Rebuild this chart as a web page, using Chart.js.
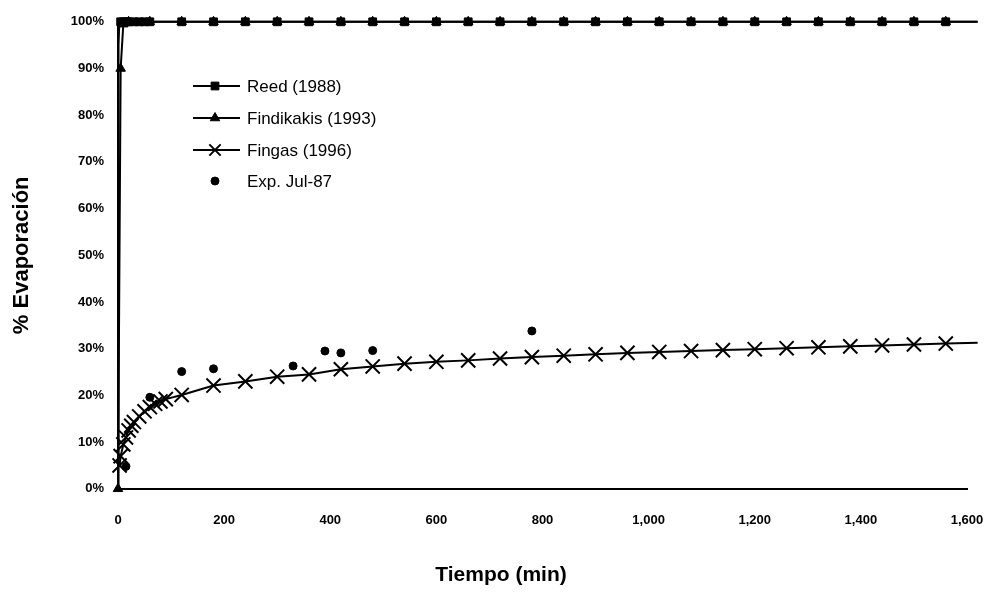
<!DOCTYPE html>
<html>
<head>
<meta charset="utf-8">
<script src="https://cdn.jsdelivr.net/npm/chart.js@4/dist/chart.umd.min.js"></script>
<style>
  html, body { margin: 0; padding: 0; background: #fff; }
  #wrap { width: 994px; height: 592px; }
</style>
</head>
<body>
<div id="wrap"><canvas id="c" width="994" height="592"></canvas></div>
<script>
// ---- Data ----
const xTickValues = [0, 200, 400, 600, 800, 1000, 1200, 1400, 1600];
const yTickValues = [0, 10, 20, 30, 40, 50, 60, 70, 80, 90, 100];

const reedLabel = 'Reed (1988)';
const reedTime = [0, 1, 2, 5, 10, 15, 20, 30, 40, 50, 60, 120, 180, 240, 300, 360, 420, 480, 540, 600, 660, 720, 780, 840, 900, 960, 1020, 1080, 1140, 1200, 1260, 1320, 1380, 1440, 1500, 1560, 1620];
const reedPct  = [0, 95, 98.5, 100, 100, 100, 100, 100, 100, 100, 100, 100, 100, 100, 100, 100, 100, 100, 100, 100, 100, 100, 100, 100, 100, 100, 100, 100, 100, 100, 100, 100, 100, 100, 100, 100, 100];

const findLabel = 'Findikakis (1993)';
const findTime = [0, 5, 10, 20, 60, 120, 180, 240, 300, 360, 420, 480, 540, 600, 660, 720, 780, 840, 900, 960, 1020, 1080, 1140, 1200, 1260, 1320, 1380, 1440, 1500, 1560, 1620];
const findPct  = [0, 90, 99.5, 100, 100, 100, 100, 100, 100, 100, 100, 100, 100, 100, 100, 100, 100, 100, 100, 100, 100, 100, 100, 100, 100, 100, 100, 100, 100, 100, 100];

const fingLabel = 'Fingas (1996)';
const fingTime = [3, 5, 10, 15, 20, 25, 30, 40, 50, 60, 70, 80, 90, 120, 180, 240, 300, 360, 420, 480, 540, 600, 660, 720, 780, 840, 900, 960, 1020, 1080, 1140, 1200, 1260, 1320, 1380, 1440, 1500, 1560, 1620];
const fingPct  = [5, 7, 9.5, 11, 12.5, 13.5, 14.3, 15.5, 16.6, 17.5, 18.2, 18.7, 19.2, 20.1, 22.1, 23.0, 24.0, 24.5, 25.6, 26.2, 26.8, 27.2, 27.5, 27.9, 28.2, 28.5, 28.8, 29.1, 29.3, 29.5, 29.7, 29.9, 30.1, 30.3, 30.5, 30.7, 30.9, 31.1, 31.3];

const expLabel = 'Exp. Jul-87';
const expTime = [15, 60, 120, 180, 330, 390, 420, 480, 780];
const expPct  = [4.8, 19.6, 25.1, 25.7, 26.3, 29.5, 29.1, 29.6, 33.8];

const xTitle = 'Tiempo (min)';
const yTitle = '% Evaporación';

// ---- Build ----
const FONT = '"Liberation Sans", Arial, sans-serif';
const toXY = (t, v) => t.map((x, i) => ({ x: x, y: v[i] }));
// first `skipStart` points and the final point are drawn without a marker
const radii = (arr, r, skipStart) => arr.map((_, i) => (i < skipStart || i === arr.length - 1 ? 0 : r));

const datasets = [
  {
    label: reedLabel, data: toXY(reedTime, reedPct),
    borderColor: '#000', backgroundColor: '#000', borderWidth: 2,
    pointStyle: 'rect', pointRadius: radii(reedTime, 5.5, 3), pointBorderWidth: 1,
    showLine: true, tension: 0, clip: false
  },
  {
    label: findLabel, data: toXY(findTime, findPct),
    borderColor: '#000', backgroundColor: '#000', borderWidth: 2,
    pointStyle: 'triangle', pointRadius: radii(findTime, 5.5, 0), pointBorderWidth: 1,
    showLine: true, tension: 0, clip: false
  },
  {
    label: fingLabel, data: toXY(fingTime, fingPct),
    borderColor: '#000', backgroundColor: '#000', borderWidth: 2,
    pointStyle: 'crossRot', pointRadius: radii(fingTime, 10, 0), pointBorderWidth: 2,
    showLine: true, tension: 0, clip: false
  },
  {
    label: expLabel, data: toXY(expTime, expPct),
    borderColor: '#000', backgroundColor: '#000',
    pointStyle: 'circle', pointRadius: 4, pointBorderWidth: 1,
    showLine: false, clip: false
  }
];

const legendMarkerRadius = [5.5, 5.5, 8, 4];

const legendPlugin = {
  id: 'insideLegend',
  afterDraw(chart) {
    const ctx = chart.ctx;
    const rows = [86, 118, 150, 181];
    const x0 = 193, x1 = 240, xm = 215, xt = 247;
    ctx.save();
    chart.data.datasets.forEach((ds, i) => {
      const y = rows[i];
      ctx.strokeStyle = '#000';
      ctx.fillStyle = '#000';
      if (ds.showLine) {
        ctx.lineWidth = 2;
        ctx.beginPath();
        ctx.moveTo(x0, y);
        ctx.lineTo(x1, y);
        ctx.stroke();
      }
      ctx.lineWidth = ds.pointBorderWidth || 1;
      Chart.helpers.drawPoint(ctx, { pointStyle: ds.pointStyle, radius: legendMarkerRadius[i], rotation: 0, borderWidth: ds.pointBorderWidth || 1 }, xm, y);
      ctx.font = '17px ' + FONT;
      ctx.textBaseline = 'middle';
      ctx.textAlign = 'left';
      ctx.fillStyle = '#000';
      ctx.fillText(ds.label, xt, y + 1);
    });
    ctx.restore();
  }
};

new Chart(document.getElementById('c'), {
  type: 'scatter',
  data: { datasets: datasets },
  options: {
    responsive: false,
    animation: false,
    layout: { padding: { left: 35, right: 27, top: 20, bottom: 0 } },
    plugins: {
      legend: { display: false },
      tooltip: { enabled: false },
      title: {
        display: true, position: 'bottom', text: xTitle, color: '#000',
        font: { family: FONT, size: 21, weight: 'bold' },
        padding: { top: 0, bottom: 4 }
      }
    },
    scales: {
      x: {
        type: 'linear', min: 0, max: 1600,
        afterBuildTicks: (s) => { s.ticks = xTickValues.map(v => ({ value: v })); },
        afterFit: (s) => { s.height = 74; },
        grid: { display: false, drawTicks: true, tickLength: 22, tickColor: 'rgba(0,0,0,0)' },
        border: { display: true, color: '#000', width: 2 },
        ticks: {
          color: '#000', padding: 2, maxRotation: 0, autoSkip: false,
          font: { family: FONT, size: 13, weight: 'bold' },
          callback: (v) => Number(v).toLocaleString('en-US')
        }
      },
      y: {
        type: 'linear', min: 0, max: 100,
        afterBuildTicks: (s) => { s.ticks = yTickValues.map(v => ({ value: v })); },
        afterFit: (s) => { s.width = 83; },
        grid: { display: false, drawTicks: false },
        border: { display: true, color: '#000', width: 2 },
        ticks: {
          color: '#000', padding: 14, autoSkip: false,
          font: { family: FONT, size: 13, weight: 'bold' },
          callback: (v) => v + '%'
        },
        title: {
          display: true, text: yTitle, color: '#000',
          font: { family: FONT, size: 22, weight: 'bold' },
          padding: { top: -26, bottom: 0 }
        }
      }
    }
  },
  plugins: [legendPlugin]
});
</script>
</body>
</html>
